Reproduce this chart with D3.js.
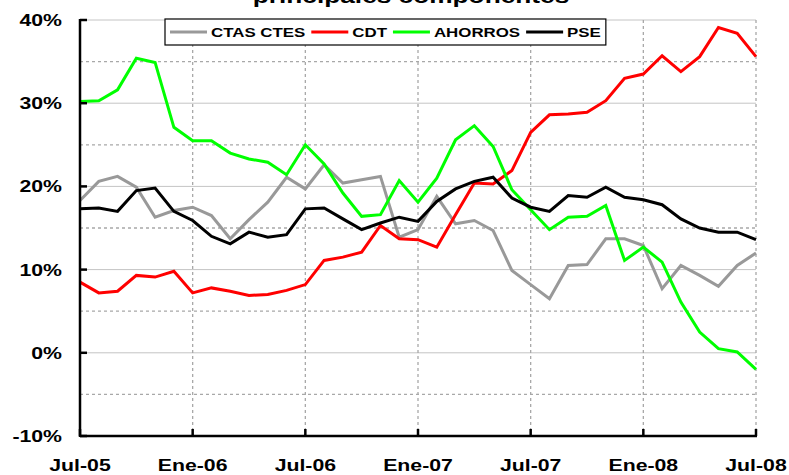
<!DOCTYPE html>
<html>
<head>
    <title>Principales componentes</title>
    <style>
        body { margin: 0; background: #fff; }
        text { font-family: "Liberation Sans", Arial, sans-serif; font-weight: bold; fill: #000; }
        .series { fill: none; stroke-width: 3px; stroke-linejoin: miter; }
    </style>
</head>
<body>
    <div id="chart"></div>

    <script src="https://d3js.org/d3.v7.min.js"></script>
    <script>
        // month index 0 = Jul-05 ... 36 = Jul-08
        const tickMonths = [0, 6, 12, 18, 24, 30, 36];
        const tickLabels = ["Jul-05", "Ene-06", "Jul-06", "Ene-07", "Jul-07", "Ene-08", "Jul-08"];
        const yTicks = [-10, 0, 10, 20, 30, 40];
        const yMinor = [-5, 5, 15, 25, 35];

        const seriesNames = ["CTAS CTES", "CDT", "AHORROS", "PSE"];
        const seriesColors = ["#999999", "#ff0000", "#00ff00", "#000000"];

        const ctas = [18.3, 20.6, 21.2, 19.9, 16.3, 17.1, 17.5, 16.5, 13.7, 16.0,
            18.1, 21.1, 19.7, 22.6, 20.4, 20.8, 21.2, 13.9, 14.8, 18.8,
            15.5, 15.9, 14.7, 9.9, 8.2, 6.5, 10.5, 10.6, 13.7, 13.7,
            12.9, 7.7, 10.5, 9.3, 8.0, 10.5, 12.0];
        const cdt = [8.5, 7.2, 7.4, 9.3, 9.1, 9.8, 7.2, 7.8, 7.4, 6.9,
            7.0, 7.5, 8.2, 11.1, 11.5, 12.1, 15.3, 13.7, 13.6, 12.7,
            16.6, 20.4, 20.3, 21.9, 26.5, 28.6, 28.7, 28.9, 30.3, 33.0,
            33.5, 35.7, 33.8, 35.6, 39.1, 38.4, 35.6];
        const ahorros = [30.2, 30.3, 31.6, 35.4, 34.9, 27.1, 25.5, 25.5, 24.0, 23.3,
            22.9, 21.4, 25.0, 22.7, 19.2, 16.4, 16.6, 20.7, 18.1, 21.0,
            25.6, 27.3, 24.8, 19.6, 17.2, 14.8, 16.3, 16.4, 17.7, 11.1,
            12.7, 10.9, 6.1, 2.5, 0.5, 0.1, -2.0];
        const pse = [17.3, 17.4, 17.0, 19.5, 19.8, 17.0, 15.9, 14.0, 13.1, 14.5,
            13.9, 14.2, 17.3, 17.4, 16.1, 14.8, 15.6, 16.3, 15.8, 18.2,
            19.7, 20.6, 21.1, 18.6, 17.5, 17.0, 18.9, 18.7, 19.9, 18.7,
            18.4, 17.8, 16.1, 15.0, 14.5, 14.5, 13.6];

        const allSeries = [ctas, cdt, ahorros, pse];

        const width = 789, height = 475;
        const margin = { left: 80, right: 33, top: 20, bottom: 39 };
        const sx = 1.25; // the source text is stretched horizontally

        const svg = d3.select("#chart").append("svg")
            .attr("width", width).attr("height", height);

        const x = d3.scaleLinear().domain([0, 36]).range([margin.left, width - margin.right]);
        const y = d3.scaleLinear().domain([-10, 40]).range([height - margin.bottom, margin.top]);

        function stretchedText(parent, px, py, str, size, anchor) {
            return parent.append("text")
                .attr("transform", `translate(${px},${py}) scale(${sx},1)`)
                .attr("text-anchor", anchor)
                .style("font-size", size + "px")
                .text(str);
        }

        // grid
        const grid = svg.append("g");
        grid.selectAll(".major").data(yTicks.filter(d => d > -10)).enter().append("line")
            .attr("x1", x(0)).attr("x2", x(36))
            .attr("y1", d => y(d)).attr("y2", d => y(d))
            .attr("stroke", "#c4c4c4").attr("stroke-width", 1);
        grid.selectAll(".minor").data(yMinor).enter().append("line")
            .attr("x1", x(0)).attr("x2", x(36))
            .attr("y1", d => y(d)).attr("y2", d => y(d))
            .attr("stroke", "#a8a8a8").attr("stroke-width", 1.3)
            .attr("stroke-dasharray", "3,3");
        grid.selectAll(".vert").data(tickMonths.slice(1)).enter().append("line")
            .attr("x1", d => x(d)).attr("x2", d => x(d))
            .attr("y1", y(40)).attr("y2", y(-10))
            .attr("stroke", "#a8a8a8").attr("stroke-width", 1.3)
            .attr("stroke-dasharray", "3,3");

        // series
        const line = d3.line().x((d, i) => x(i)).y(d => y(d));
        svg.selectAll(".series").data(allSeries).enter().append("path")
            .attr("class", "series")
            .attr("stroke", (d, i) => seriesColors[i])
            .attr("d", line);

        // axes
        const axes = svg.append("g").attr("stroke", "#000");
        axes.append("line")
            .attr("x1", x(0)).attr("x2", x(0))
            .attr("y1", y(40) - 1).attr("y2", y(-10) + 1)
            .attr("stroke-width", 2.5);
        axes.append("line")
            .attr("x1", x(0)).attr("x2", x(36) + 1)
            .attr("y1", y(-10)).attr("y2", y(-10))
            .attr("stroke-width", 2.5);
        axes.selectAll(".yt").data(yTicks).enter().append("line")
            .attr("x1", x(0)).attr("x2", x(0) + 7)
            .attr("y1", d => y(d)).attr("y2", d => y(d))
            .attr("stroke-width", 2.5);
        axes.selectAll(".xt").data(tickMonths).enter().append("line")
            .attr("x1", d => x(d)).attr("x2", d => x(d))
            .attr("y1", y(-10)).attr("y2", y(-10) - 7)
            .attr("stroke-width", 2.5);

        // tick labels
        yTicks.forEach(v => stretchedText(svg, x(0) - 18, y(v) + 6, v + "%", 17, "end"));
        tickMonths.forEach((m, i) => stretchedText(svg, x(m), 471, tickLabels[i], 17, "middle"));

        // title (cut at the top)
        stretchedText(svg, 411, 3, "principales componentes", 21, "middle");

        // legend
        const legend = svg.append("g");
        const box = legend.append("rect")
            .attr("y", 19).attr("height", 26)
            .attr("fill", "#fff").attr("stroke", "#000").attr("stroke-width", 1.2);
        let lx = 170;
        seriesNames.forEach((name, i) => {
            legend.append("line")
                .attr("x1", lx).attr("x2", lx + 37)
                .attr("y1", 32).attr("y2", 32)
                .attr("stroke", seriesColors[i]).attr("stroke-width", 3);
            const t = stretchedText(legend, lx + 41, 37, name, 13.5, "start");
            lx += 41 + t.node().getComputedTextLength() * sx + 6;
        });
        box.attr("x", 165).attr("width", lx - 165 - 1);
    </script>
</body>
</html>
